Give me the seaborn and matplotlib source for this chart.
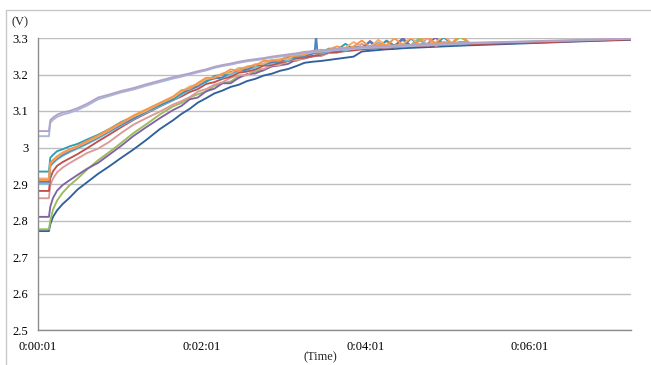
import matplotlib
matplotlib.use("Agg")
import matplotlib.pyplot as plt
import pandas as pd
import seaborn as sns
from matplotlib.patches import Rectangle
from matplotlib.ticker import FixedLocator, FuncFormatter

# ---- time grids (seconds) ----
t_early = [1, 9, 10, 12, 15, 19, 24, 30, 37, 45, 53, 62, 71, 80, 90, 100]
t_mid = [106, 112, 118, 124, 130, 136, 142, 148, 154, 160, 166, 172, 178, 184,
         190, 196, 202, 208, 214, 220, 226, 232, 238, 244, 250, 256, 262, 268,
         274, 280, 286, 292, 298, 304, 310, 316]
t_tail = [340, 370, 400, 435]

# ---- series values (V) ----
dkblue_early = [2.771, 2.771, 2.79, 2.81, 2.828, 2.845, 2.862, 2.885, 2.905, 2.928, 2.948, 2.972, 2.995, 3.02, 3.05, 3.075]
dkblue_mid = [3.092, 3.106, 3.123, 3.135, 3.148, 3.156, 3.166, 3.172, 3.182, 3.188, 3.197, 3.202, 3.21, 3.215, 3.223, 3.232,
              3.235, 3.237, 3.24, 3.243, 3.246, 3.249, 3.263, 3.265, 3.267, 3.269, 3.27, 3.272, 3.273, 3.274, 3.275, 3.276,
              3.277, 3.278, 3.279, 3.28]
dkblue_tail = [3.283, 3.287, 3.291, 3.295]

green_early = [2.776, 2.776, 2.80, 2.83, 2.855, 2.876, 2.896, 2.915, 2.94, 2.965, 2.987, 3.013, 3.04, 3.063, 3.09, 3.113]
green_mid = [3.122, 3.137, 3.146, 3.153, 3.169, 3.176, 3.181, 3.195, 3.199, 3.209, 3.211, 3.224, 3.228, 3.237, 3.237, 3.246,
             3.249, 3.257, 3.259, 3.26, 3.269, 3.269, 3.272, 3.272, 3.277, 3.292, 3.278, 3.278, 3.281, 3.299, 3.281, 3.285,
             3.284, 3.284, 3.303, 3.288]

purple_early = [2.81, 2.81, 2.838, 2.862, 2.882, 2.897, 2.91, 2.925, 2.942, 2.958, 2.98, 3.005, 3.032, 3.055, 3.08, 3.103]
purple_mid = [3.114, 3.132, 3.137, 3.154, 3.161, 3.176, 3.176, 3.191, 3.201, 3.203, 3.212, 3.222, 3.225, 3.229, 3.241, 3.244,
              3.25, 3.251, 3.26, 3.267, 3.264, 3.269, 3.27, 3.292, 3.273, 3.278, 3.277, 3.3, 3.277, 3.281, 3.284, 3.301,
              3.282, 3.284, 3.289, 3.288]

pink_early = [2.861, 2.861, 2.897, 2.915, 2.932, 2.945, 2.957, 2.97, 2.985, 2.997, 3.015, 3.04, 3.063, 3.08, 3.098, 3.118]
pink_mid = [3.127, 3.138, 3.153, 3.16, 3.172, 3.179, 3.191, 3.198, 3.198, 3.214, 3.215, 3.225, 3.226, 3.239, 3.24, 3.244,
            3.252, 3.251, 3.259, 3.261, 3.268, 3.268, 3.284, 3.269, 3.275, 3.291, 3.274, 3.277, 3.28, 3.278, 3.3, 3.278,
            3.283, 3.282, 3.284, 3.286]

red_early = [2.881, 2.881, 2.916, 2.935, 2.95, 2.96, 2.97, 2.982, 2.998, 3.017, 3.035, 3.056, 3.076, 3.093, 3.112, 3.13]
red_mid = [3.14, 3.152, 3.16, 3.174, 3.179, 3.188, 3.194, 3.205, 3.208, 3.214, 3.224, 3.226, 3.232, 3.237, 3.245, 3.246,
           3.251, 3.254, 3.261, 3.261, 3.264, 3.266, 3.269, 3.27, 3.272, 3.274, 3.275, 3.276, 3.277, 3.278, 3.279, 3.28,
           3.281, 3.281, 3.282, 3.283]
red_tail = [3.285, 3.288, 3.292, 3.296]

ltteal_early = [2.901, 2.901, 2.948, 2.957, 2.967, 2.977, 2.987, 2.997, 3.01, 3.025, 3.042, 3.06, 3.078, 3.095, 3.113, 3.13]
ltteal_mid = [3.144, 3.158, 3.167, 3.18, 3.19, 3.191, 3.2, 3.21, 3.214, 3.218, 3.23, 3.23, 3.238, 3.238, 3.249, 3.25,
              3.26, 3.257, 3.263, 3.269, 3.265, 3.272, 3.272, 3.278, 3.288, 3.275, 3.279, 3.279, 3.279, 3.295, 3.279, 3.285,
              3.284, 3.285, 3.283, 3.286]

blue_early = [2.906, 2.906, 2.952, 2.96, 2.97, 2.98, 2.99, 3.0, 3.012, 3.028, 3.045, 3.063, 3.08, 3.098, 3.116, 3.132]
blue_mid = [3.15, 3.158, 3.168, 3.184, 3.189, 3.192, 3.207, 3.21, 3.213, 3.225, 3.227, 3.234, 3.235, 3.247, 3.247, 3.25,
            3.257, 3.263, 3.264, 3.264, 3.271, 3.276, 3.273, 3.289, 3.273, 3.277, 3.28, 3.295, 3.278, 3.281, 3.281, 3.284,
            3.302, 3.283, 3.287, 3.284]
blue_spike_t = [203.5, 204.5, 205.5]
blue_spike_v = [3.262, 3.308, 3.262]

teal_early = [2.934, 2.934, 2.972, 2.98, 2.99, 2.995, 3.003, 3.01, 3.022, 3.035, 3.05, 3.07, 3.085, 3.10, 3.118, 3.135]
teal_mid = [3.148, 3.165, 3.174, 3.18, 3.196, 3.2, 3.204, 3.217, 3.217, 3.227, 3.227, 3.239, 3.24, 3.248, 3.246, 3.259,
            3.259, 3.26, 3.271, 3.268, 3.284, 3.27, 3.276, 3.275, 3.273, 3.293, 3.279, 3.278, 3.298, 3.281, 3.284, 3.281,
            3.304, 3.285, 3.284, 3.288]

ltorange_early = [2.915, 2.915, 2.955, 2.963, 2.973, 2.984, 2.993, 3.002, 3.015, 3.03, 3.047, 3.066, 3.085, 3.1, 3.12, 3.137]
ltorange_mid = [3.153, 3.167, 3.173, 3.187, 3.192, 3.203, 3.204, 3.218, 3.219, 3.228, 3.229, 3.239, 3.242, 3.243, 3.254, 3.255,
                3.261, 3.268, 3.264, 3.27, 3.274, 3.289, 3.275, 3.274, 3.295, 3.279, 3.279, 3.283, 3.301, 3.281, 3.284, 3.288,
                3.307, 3.285, 3.288, 3.288]

orange_early = [2.911, 2.911, 2.958, 2.966, 2.976, 2.986, 2.995, 3.004, 3.018, 3.033, 3.05, 3.068, 3.088, 3.104, 3.122, 3.14]
orange_mid = [3.157, 3.16, 3.177, 3.191, 3.191, 3.201, 3.214, 3.209, 3.222, 3.225, 3.237, 3.238, 3.238, 3.251, 3.251, 3.253,
              3.265, 3.262, 3.269, 3.277, 3.269, 3.277, 3.293, 3.275, 3.282, 3.28, 3.299, 3.281, 3.28, 3.291, 3.305, 3.284,
              3.289, 3.286, 3.31, 3.289]

lavB_early = [3.031, 3.031, 3.068, 3.076, 3.084, 3.09, 3.095, 3.103, 3.115, 3.132, 3.141, 3.151, 3.159, 3.169, 3.179, 3.189]
lavB_mid = [3.194, 3.2, 3.206, 3.211, 3.218, 3.223, 3.227, 3.232, 3.236, 3.239, 3.242, 3.246, 3.249, 3.252, 3.255, 3.259,
            3.261, 3.263, 3.265, 3.267, 3.269, 3.27, 3.272, 3.273, 3.274, 3.275, 3.276, 3.277, 3.278, 3.279, 3.28, 3.281,
            3.282, 3.283, 3.284, 3.285]
lavB_tail = [3.288, 3.291, 3.294, 3.298]

lavA_early = [3.045, 3.045, 3.075, 3.082, 3.09, 3.096, 3.10, 3.108, 3.12, 3.137, 3.145, 3.155, 3.163, 3.173, 3.183, 3.193]
lavA_mid = [3.198, 3.203, 3.209, 3.214, 3.221, 3.226, 3.23, 3.235, 3.239, 3.242, 3.245, 3.249, 3.252, 3.255, 3.258, 3.262,
            3.264, 3.266, 3.268, 3.27, 3.272, 3.273, 3.275, 3.276, 3.277, 3.278, 3.279, 3.28, 3.281, 3.282, 3.283, 3.284,
            3.285, 3.285, 3.286, 3.287]
lavA_tail = [3.289, 3.292, 3.295, 3.299]

x_tick_pos = [1, 121, 241, 361]
x_tick_labels = ["0:00:01", "0:02:01", "0:04:01", "0:06:01"]
y_ticks = [2.5, 2.6, 2.7, 2.8, 2.9, 3.0, 3.1, 3.2, 3.3]

# ---- assemble long-form table ----
series = [
    ("dkblue", dkblue_early, dkblue_mid, dkblue_tail, "#30619C"),
    ("green", green_early, green_mid, None, "#9BBB59"),
    ("purple", purple_early, purple_mid, None, "#8064A2"),
    ("pink", pink_early, pink_mid, None, "#DA9A98"),
    ("red", red_early, red_mid, red_tail, "#C0504D"),
    ("ltteal", ltteal_early, ltteal_mid, None, "#6FBDD1"),
    ("blue", blue_early, blue_mid, None, "#4F81BD"),
    ("teal", teal_early, teal_mid, None, "#2E9DB5"),
    ("ltorange", ltorange_early, ltorange_mid, None, "#F9AB6B"),
    ("orange", orange_early, orange_mid, None, "#F79646"),
    ("lavB", lavB_early, lavB_mid, lavB_tail, "#A9B6D8"),
    ("lavA", lavA_early, lavA_mid, lavA_tail, "#B3A2C7"),
]

rows = []
for name, e, m, tl, _ in series:
    for t, v in zip(t_early, e):
        rows.append((name, t, v))
    for t, v in zip(t_mid, m):
        rows.append((name, t, v))
    if tl is not None:
        for t, v in zip(t_tail, tl):
            rows.append((name, t, v))
for t, v in zip(blue_spike_t, blue_spike_v):
    rows.append(("blue", t, v))
df = pd.DataFrame(rows, columns=["series", "t", "v"])
palette = {s[0]: s[4] for s in series}
order = [s[0] for s in series]

# ---- plot ----
sns.set_style("white")
plt.rcParams["font.family"] = ["Liberation Serif", "DejaVu Serif"]

fig = plt.figure(figsize=(6.51, 3.65), dpi=100)
ax = fig.add_axes([38 / 651, 1 - 330 / 365, 593 / 651, 292 / 365])

for name in order:
    sub = df[df["series"] == name].sort_values("t")
    sns.lineplot(data=sub, x="t", y="v", color=palette[name], estimator=None,
                 sort=True, linewidth=1.35, ax=ax, legend=False)

ax.set_xlim(1, 435)
ax.set_ylim(2.5, 3.3)
ax.yaxis.set_major_locator(FixedLocator(y_ticks))
ax.yaxis.set_major_formatter(FuncFormatter(lambda v, p: f"{round(v, 1):g}"))
ax.set_xticks(x_tick_pos)
ax.set_xticklabels(x_tick_labels)
ax.set_xlabel("")
ax.set_ylabel("")

ax.grid(axis="y", color="#BEBEBE", linewidth=1.0)
ax.grid(axis="x", visible=False)
ax.set_axisbelow(True)
for side in ["top", "right"]:
    ax.spines[side].set_visible(False)
for side in ["left", "bottom"]:
    ax.spines[side].set_color("#8C8C8C")
    ax.spines[side].set_linewidth(1.0)
ax.tick_params(axis="both", direction="out", length=4, width=1, color="#8C8C8C",
               labelsize=9, labelcolor="#000000", pad=3)
ax.tick_params(axis="x", pad=4)

fig.text(12 / 651, 1 - 22 / 365, "(V)", fontsize=9, va="center", ha="left")
fig.text(320 / 651, 1 - 357 / 365, "(Time)", fontsize=9, va="center", ha="center")

fig.patches.append(Rectangle((6 / 651, -0.2), 1.5, 1.2 - 10 / 365, transform=fig.transFigure,
                             fill=False, edgecolor="#C8C8C8", linewidth=1.0))

fig.savefig("out.png", dpi=100)
